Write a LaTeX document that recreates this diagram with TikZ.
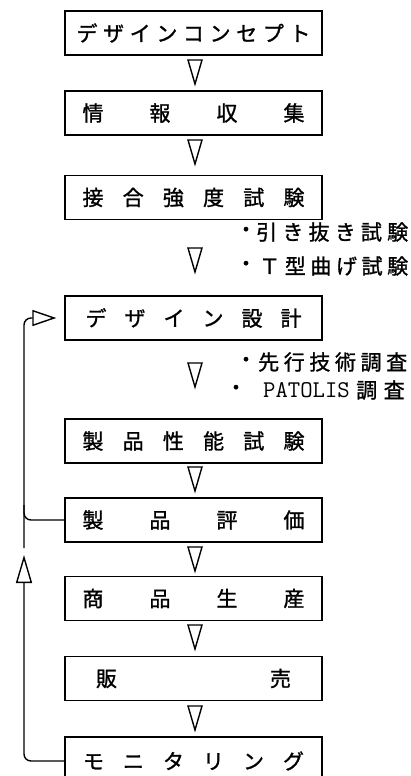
\documentclass[tikz,border=0pt]{standalone}
\usepackage{fontspec}
\setmainfont{Noto Sans CJK JP}[FakeBold=1.2]
\usetikzlibrary{arrows.meta}
\tikzset{
  stepbox/.style={draw, line width=1.4pt, minimum width=257pt, minimum height=44pt,
    inner sep=0pt, font=\fontsize{21}{24}\selectfont},
  note/.style={inner sep=0pt, font=\fontsize{21}{24}\selectfont},
  flowmark/.pic={\draw[line width=1.4pt, line join=miter] (-7,0) -- (7,0) -- (0,24) -- cycle;},
  fbline/.style={line width=1.4pt, rounded corners=7pt},
}
\begin{document}
\begin{tikzpicture}[x=1pt, y=-1pt]
\clip (0,0) rectangle (411,776);
\fill[white] (0,0) rectangle (411,776);
% boxes
\node[stepbox] (b1) at (193.5,33)  {\makebox[234pt]{デ\hfill ザ\hfill イ\hfill ン\hfill コ\hfill ン\hfill セ\hfill プ\hfill ト}};
\node[stepbox] (b2) at (193.5,113) {\makebox[222pt]{情\hfill 報\hfill 収\hfill 集}};
\node[stepbox] (b3) at (193.5,197.5) {\makebox[222pt]{接\hfill 合\hfill 強\hfill 度\hfill 試\hfill 験}};
\node[stepbox] (b4) at (193.5,318) {\makebox[216pt]{デ\hfill ザ\hfill イ\hfill ン\hfill 設\hfill 計}};
\node[stepbox] (b5) at (193.5,441) {\makebox[222pt]{製\hfill 品\hfill 性\hfill 能\hfill 試\hfill 験}};
\node[stepbox] (b6) at (193.5,520) {\makebox[222pt]{製\hfill 品\hfill 評\hfill 価}};
\node[stepbox] (b7) at (193.5,598.5) {\makebox[222pt]{商\hfill 品\hfill 生\hfill 産}};
\node[stepbox] (b8) at (193.5,678.5) {\makebox[195pt]{販\hfill 売}};
\node[stepbox, minimum height=48pt] (b9) at (193.5,761) {\makebox[221pt]{モ\hfill ニ\hfill タ\hfill リ\hfill ン\hfill グ}};
% flow marks
\pic at (195,60) {flowmark};
\pic at (195,140) {flowmark};
\pic at (195,248) {flowmark};
\pic at (195,363) {flowmark};
\pic at (195,467) {flowmark};
\pic at (195,547) {flowmark};
\pic at (195,625) {flowmark};
\pic at (195,706) {flowmark};
% notes
\node[note] (d1) at (246,232) {・};
\node[note, anchor=west] (n1) at (256,232) {\makebox[152pt]{引\hfill き\hfill 抜\hfill き\hfill 試\hfill 験}};
\node[note] (d2) at (246,266) {・};
\node[note, anchor=west] (n2) at (259,266) {\makebox[149pt]{Ｔ\hfill 型\hfill 曲\hfill げ\hfill 試\hfill 験}};
\node[note] (d3) at (246,362) {・};
\node[note, anchor=west] (n3) at (258,362) {\makebox[149pt]{先\hfill 行\hfill 技\hfill 術\hfill 調\hfill 査}};
\node[note] (d4) at (236,390) {・};
\node[note, anchor=west] (n4) at (263,390) {{\ttfamily\fontsize{24}{24}\selectfont PATOLIS}\makebox[55pt]{\hfill 調\hfill 査}};
% feedback
\coordinate (fbtop) at ([xshift=-8pt]b4.west);
\coordinate (fbmid) at (24,548);
\coordinate (fbup) at (24,555);
\draw[fbline, -{Triangle[open, length=24pt, width=16pt]}] (fbmid) |- (fbtop);
\draw[fbline] (b6.west) -| (24,505);
\draw[fbline, -{Triangle[open, length=28pt, width=16pt]}] (b9.west) -| (fbup);
\end{tikzpicture}
\end{document}
